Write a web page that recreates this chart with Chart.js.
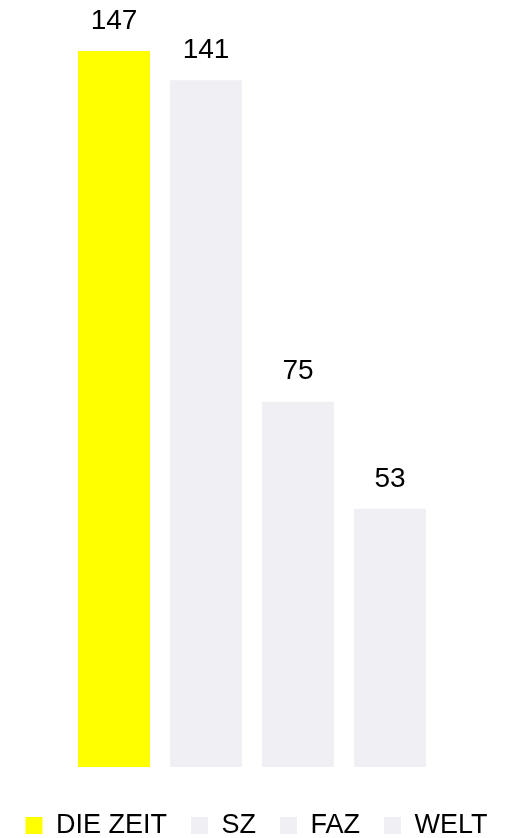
<!DOCTYPE html>
<html lang="de">
<head>
<meta charset="UTF-8">
<script src="https://cdn.jsdelivr.net/npm/chart.js"></script>
<style>
  * { margin: 0; padding: 0; }
  html, body { width: 513px; height: 838px; background: #fff; overflow: hidden; }
  #wrap { position: relative; width: 513px; height: 838px; }
</style>
</head>
<body>
<div id="wrap"><canvas id="chart"></canvas></div>
<script>
const categories = ['DIE ZEIT', 'SZ', 'FAZ', 'WELT'];
const values = [147, 141, 75, 53];
const colors = ['#ffff00', '#efeff4', '#efeff4', '#efeff4'];

const FONT = '"Liberation Sans", Arial, sans-serif';

// value labels above the bars
const valueLabels = {
  id: 'valueLabels',
  afterDatasetsDraw(chart) {
    const ctx = chart.ctx;
    const meta = chart.getDatasetMeta(0);
    ctx.save();
    ctx.font = '28px ' + FONT;
    ctx.fillStyle = '#000';
    ctx.textAlign = 'center';
    ctx.textBaseline = 'middle';
    meta.data.forEach((bar, i) => {
      ctx.fillText(String(values[i]), bar.x, bar.y - 30);
    });
    ctx.restore();
  }
};

new Chart(document.getElementById('chart'), {
  type: 'bar',
  data: {
    labels: categories,
    datasets: [{
      data: values,
      backgroundColor: colors,
      borderWidth: 0,
      categoryPercentage: 1,
      barPercentage: 0.7826
    }]
  },
  options: {
    responsive: true,
    maintainAspectRatio: false,
    animation: false,
    layout: { padding: { top: 51, left: 0, right: 0, bottom: -11 } },
    scales: {
      x: {
        display: true,
        grid: { display: false },
        border: { display: false },
        ticks: { display: false },
        afterFit(s) { s.height = 21; }
      },
      y: {
        display: true,
        min: 0,
        max: 147,
        grid: { display: false },
        border: { display: false },
        ticks: { display: false },
        afterFit(s) { s.width = 68; }
      },
      y2: {
        display: true,
        position: 'right',
        grid: { display: false },
        border: { display: false },
        ticks: { display: false },
        afterFit(s) { s.width = 77; }
      }
    },
    plugins: {
      tooltip: { enabled: false },
      legend: {
        position: 'bottom',
        labels: {
          boxWidth: 17,
          boxHeight: 17,
          padding: 24,
          color: '#000',
          font: { family: FONT, size: 27 },
          generateLabels() {
            return categories.map((c, i) => ({
              text: c,
              fillStyle: colors[i],
              strokeStyle: colors[i],
              lineWidth: 0,
              fontColor: '#000',
              index: i
            }));
          }
        }
      }
    }
  },
  plugins: [valueLabels]
});
</script>
</body>
</html>
